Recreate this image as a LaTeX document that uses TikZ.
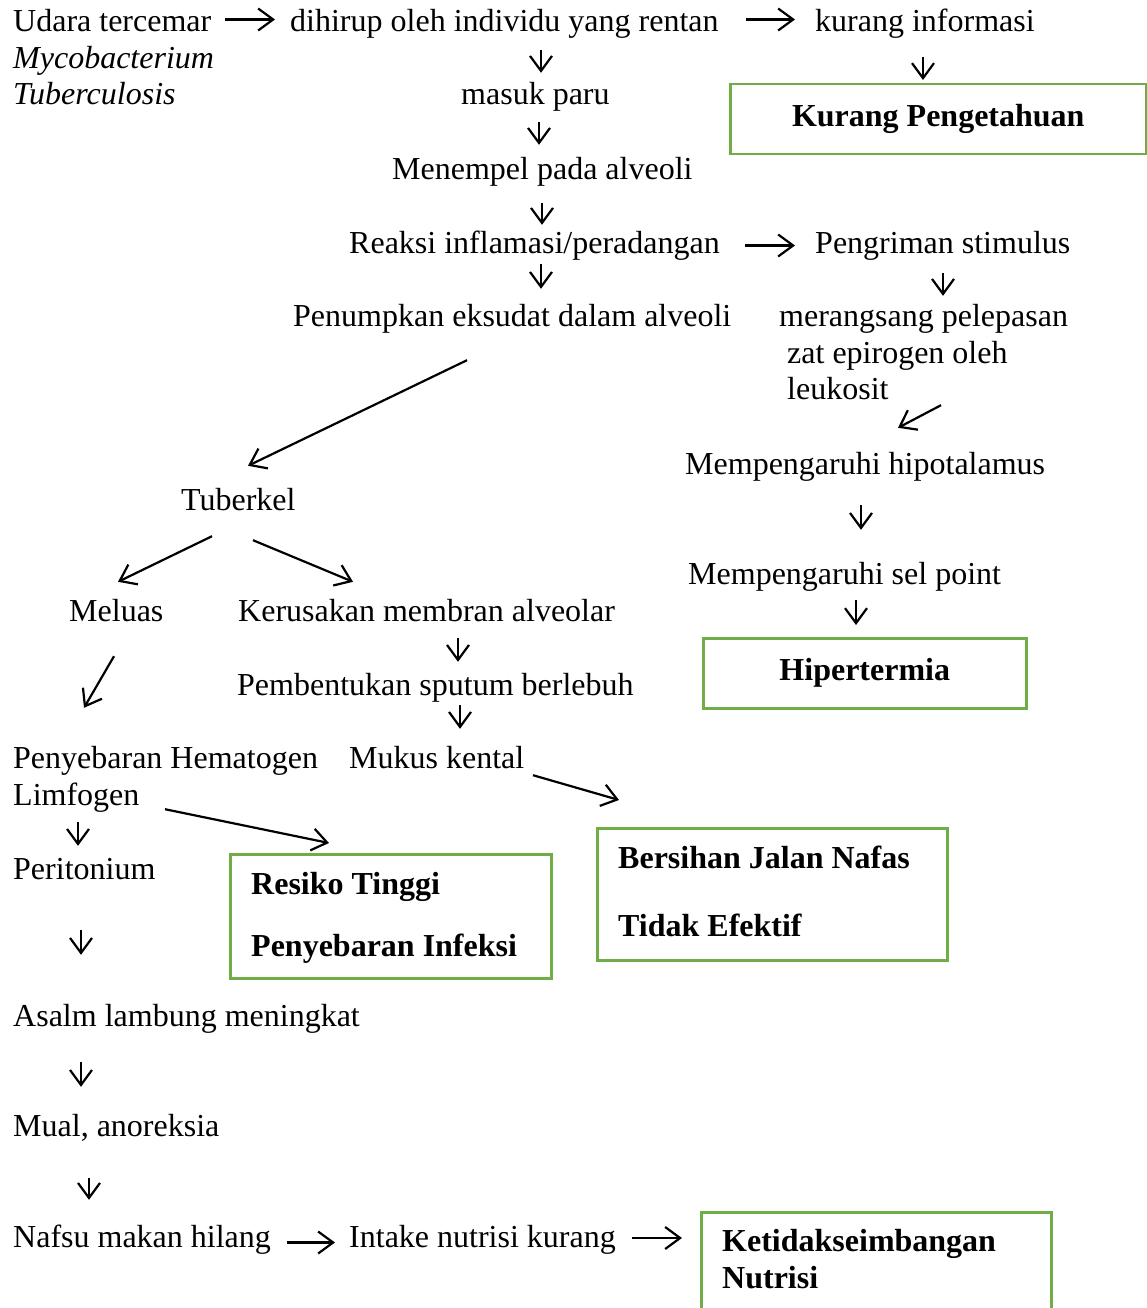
\documentclass[tikz,border=0pt]{standalone}
\usepackage{fontspec}
\setmainfont{Liberation Serif}
\usetikzlibrary{arrows.meta,calc}
\definecolor{boxgreen}{HTML}{70AD47}
\tikzset{
  tx/.style={inner sep=0pt, anchor=base west, text height=22pt, text depth=7pt},
  bx/.style={draw=boxgreen, line width=2.5pt, anchor=north west, inner sep=0pt,
             text height=22pt, text depth=7pt, font=\fontsize{32}{38}\selectfont\bfseries},
  bt/.style={tx, font=\fontsize{32}{38}\selectfont\bfseries},
  arr/.style={line width=2.2pt, -{Straight Barb[length=15pt,width=22pt]}}
}
% vertical arrow: from, to, x, gap below from, gap above to
\newcommand{\vArr}[5]{\draw[arr] ($(#1.south -| #3,0)+(0,#4)$) -- ($(#2.north -| #3,0)+(0,-#5)$);}
% general arrow: from, anchor, x1, dy1, to, anchor, x2, dy2
\newcommand{\dArr}[8]{\draw[arr] ($(#1.#2 -| #3,0)+(0,#4)$) -- ($(#5.#6 -| #7,0)+(0,#8)$);}
% horizontal arrow: from, to, dx1, dx2, dy
\newcommand{\hArr}[5]{\draw[arr] ($(#1.east)+(#3,#5)$) -- ($(#2.west)+(-#4,#5)$);}
\begin{document}
\begin{tikzpicture}[x=1pt, y=-1pt, font=\fontsize{32}{38}\selectfont]
\path[fill=white, use as bounding box] (0,0) rectangle (1147,1308);

% text nodes
\node[tx] (udara) at (13,32) {Udara tercemar};
\node[tx, font=\fontsize{32}{38}\selectfont\itshape] (myco) at (13,69) {Mycobacterium};
\node[tx, font=\fontsize{32}{38}\selectfont\itshape] (tuber) at (13,105) {Tuberculosis};
\node[tx] (dihirup) at (290,32) {dihirup oleh individu yang rentan};
\node[tx] (kurang) at (815,32) {kurang informasi};
\node[tx] (masuk) at (461,105) {masuk paru};
\node[tx] (menempel) at (392,179) {Menempel pada alveoli};
\node[tx] (reaksi) at (349,253) {Reaksi inflamasi/peradangan};
\node[tx] (pengriman) at (815,253) {Pengriman stimulus};
\node[tx] (penumpkan) at (293,326) {Penumpkan eksudat dalam alveoli};
\node[tx] (merangsang) at (779,326) {merangsang pelepasan};
\node[tx] (zat) at (787,363) {zat epirogen oleh};
\node[tx] (leukosit) at (787,399) {leukosit};
\node[tx] (hipot) at (685,474) {Mempengaruhi hipotalamus};
\node[tx] (tuberkel) at (181,510) {Tuberkel};
\node[tx] (selpoint) at (688,584) {Mempengaruhi sel point};
\node[tx] (meluas) at (69,621) {Meluas};
\node[tx] (kerusakan) at (238,621) {Kerusakan membran alveolar};
\node[tx] (pembentukan) at (237,695) {Pembentukan sputum berlebuh};
\node[tx] (penyebaran) at (13,768) {Penyebaran Hematogen};
\node[tx] (mukus) at (349,768) {Mukus kental};
\node[tx] (limfogen) at (13,805) {Limfogen};
\node[tx] (peritonium) at (13,879) {Peritonium};
\node[tx] (asalm) at (13,1026) {Asalm lambung meningkat};
\node[tx] (mual) at (13,1136) {Mual, anoreksia};
\node[tx] (nafsu) at (13,1247) {Nafsu makan hilang};
\node[tx] (intake) at (349,1247) {Intake nutrisi kurang};

% green boxes
\node[bx, minimum width=416pt, minimum height=70pt] (kpbox) at (729,83) {Kurang Pengetahuan};
\node[bx, minimum width=323pt, minimum height=70pt] (hipbox) at (702,637) {Hipertermia};
\node[bx, minimum width=321pt, minimum height=124pt] (rtbox) at (229,853) {};
\node[bt] (rt1) at (251,894) {Resiko Tinggi};
\node[bt] (rt2) at (251,956) {Penyebaran Infeksi};
\node[bx, minimum width=350pt, minimum height=132pt] (bjbox) at (596,827) {};
\node[bt] (bj1) at (618,868) {Bersihan Jalan Nafas};
\node[bt] (bj2) at (618,936) {Tidak Efektif};
\node[bx, minimum width=350pt, minimum height=150pt] (knbox) at (700,1211) {};
\node[bt] (kn1) at (722,1251) {Ketidakseimbangan};
\node[bt] (kn2) at (722,1288) {Nutrisi};

% horizontal arrows
\hArr{udara}{dihirup}{14}{15}{-5}
\hArr{dihirup}{kurang}{27}{20}{-5}
\hArr{reaksi}{pengriman}{25}{20}{0}
\hArr{nafsu}{intake}{16}{14}{3}
\draw[arr] ($(intake.east)+(16,-1.5)$) -- ($(intake.east -| knbox.west)+(-18,-1.5)$);

% vertical arrows
\vArr{dihirup}{masuk}{541}{11}{10}
\vArr{kurang}{kpbox}{923}{18}{3}
\vArr{masuk}{menempel}{539}{10}{12}
\vArr{menempel}{reaksi}{542}{17}{6}
\vArr{reaksi}{penumpkan}{541}{4}{15}
\vArr{pengriman}{merangsang}{943}{13}{8}
\vArr{hipot}{selpoint}{861}{24}{32}
\vArr{selpoint}{hipbox}{856}{9}{12}
\vArr{kerusakan}{pembentukan}{458}{10}{11}
\vArr{pembentukan}{mukus}{460}{3}{17}
\vArr{limfogen}{peritonium}{78}{10}{11}
\vArr{peritonium}{asalm}{81}{44}{49}
\vArr{asalm}{mual}{81}{29}{27}
\vArr{mual}{nafsu}{89}{35}{25}

% diagonal arrows
\dArr{leukosit}{south}{941}{-1}{hipot}{north}{898}{-24}
\dArr{penumpkan}{south}{467}{27}{tuberkel}{north}{248}{-22}
\dArr{tuberkel}{south}{212}{19}{meluas}{north}{118}{-17}
\dArr{tuberkel}{south}{253}{23}{kerusakan}{north}{353}{-17}
\dArr{meluas}{south}{114}{28}{penyebaran}{north}{84}{-38}
\dArr{mukus}{south}{533}{0}{bjbox}{north}{619}{-27}
\dArr{limfogen}{south}{165}{-3}{rtbox}{north}{329}{-10}
\end{tikzpicture}
\end{document}
